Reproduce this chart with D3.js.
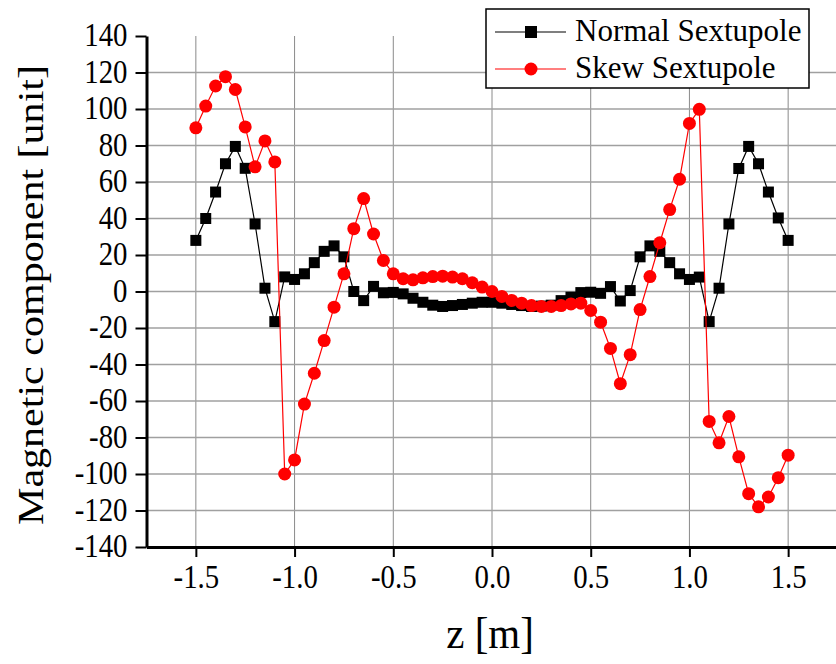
<!DOCTYPE html>
<html><head><meta charset="utf-8">
<script src="https://cdn.jsdelivr.net/npm/d3@7"></script>
<style>html,body{margin:0;padding:0;background:#fff;}svg{display:block;}</style>
</head><body>
<svg id="chart" width="836" height="664"></svg>
<script>
const zValues = [-1.5,-1.45,-1.4,-1.35,-1.3,-1.25,-1.2,-1.15,-1.1,-1.05,-1.0,-0.95,-0.9,-0.85,-0.8,-0.75,-0.7,-0.65,-0.6,-0.55,-0.5,-0.45,-0.4,-0.35,-0.3,-0.25,-0.2,-0.15,-0.1,-0.05,0,0.05,0.1,0.15,0.2,0.25,0.3,0.35,0.4,0.45,0.5,0.55,0.6,0.65,0.7,0.75,0.8,0.85,0.9,0.95,1.0,1.05,1.1,1.15,1.2,1.25,1.3,1.35,1.4,1.45,1.5];
const normalSextupole = [28,40,54.5,70,79.5,67.5,37,1.8,-16.5,8,6.6,9.7,15.8,22,25,19,0,-5,2.8,-0.7,-0.5,-1.3,-3.7,-5.9,-7.5,-8.2,-7.7,-7.1,-6.4,-5.9,-5.9,-6.4,-7.1,-7.7,-8.2,-8,-7.5,-5,-3.1,-0.6,-0.4,-1,2.7,-5.2,0.5,19,25,22,15.8,9.7,6.6,7.9,-16.5,1.8,37,67.4,79.5,70,54.5,40.3,28];
const skewSextupole = [89.7,101.6,112.6,117.7,110.7,90.2,68.3,82.5,71,-100,-92.3,-61.7,-44.8,-26.9,-8.6,9.7,34.4,50.9,31.5,17,9.7,7,6.4,7.5,8.2,8.4,7.9,7,4.8,2.4,0,-2.7,-4.9,-6.4,-7.7,-8.2,-8.2,-7.7,-6.8,-6.4,-10.4,-16.8,-31.2,-50.5,-34.6,-9.9,8.2,26.7,44.9,61.5,92.1,99.8,-71.2,-82.9,-68.5,-90.6,-110.8,-118,-112.6,-102,-89.7];
const xMajorTicks = [-1.5,-1.0,-0.5,0.0,0.5,1.0,1.5];
const xMinorTicks = [-1.25,-0.75,-0.25,0.25,0.75,1.25];
const yMajorTicks = [-140,-120,-100,-80,-60,-40,-20,0,20,40,60,80,100,120,140];
const yMinorTicks = [-130,-110,-90,-70,-50,-30,-10,10,30,50,70,90,110,130];
const seriesNames = ["Normal Sextupole","Skew Sextupole"];
const xLabel = "z [m]";
const yLabel = "Magnetic component [unit]";

const svg = d3.select("#chart");
const FONT = "'Liberation Serif','Times New Roman',serif";
const x = d3.scaleLinear().domain([-1.75,1.75]).range([146.5,837.5]);
const y = d3.scaleLinear().domain([-140,140]).range([547,36]);
const hyphen = f => d => f(d).replace("\u2212","-");

// gridlines
const grid = svg.append("g");
grid.selectAll("line.v").data(xMajorTicks).join("line")
  .attr("x1",d=>x(d)).attr("x2",d=>x(d)).attr("y1",y(140)).attr("y2",y(-140))
  .attr("stroke","#8a8a8a").attr("stroke-width",1);
grid.selectAll("line.h").data(yMajorTicks.filter(d=>d>-140&&d<140)).join("line")
  .attr("x1",x(-1.75)).attr("x2",x(1.75)).attr("y1",d=>y(d)).attr("y2",d=>y(d))
  .attr("stroke","#a0a0a0").attr("stroke-width",1.3);

// axes
const xAxisG = svg.append("g").attr("transform",`translate(0,${y(-140)})`);
xAxisG.call(d3.axisBottom(x).tickValues(xMinorTicks).tickSize(6).tickSizeOuter(0).tickFormat(""));
xAxisG.call(d3.axisBottom(x).tickValues(xMajorTicks).tickSize(10).tickSizeOuter(0).tickFormat(hyphen(d3.format(".1f"))));
const yAxisG = svg.append("g").attr("transform",`translate(${x(-1.75)},0)`);
yAxisG.call(d3.axisLeft(y).tickValues(yMinorTicks).tickSize(6).tickSizeOuter(0).tickFormat(""));
yAxisG.call(d3.axisLeft(y).tickValues(yMajorTicks).tickSize(11).tickSizeOuter(0).tickFormat(hyphen(d3.format("d"))));
const sx = 0.93, sy = 1.07;
[xAxisG,yAxisG].forEach(g=>{
  g.selectAll("path.domain").attr("stroke","#000").attr("stroke-width",3);
  g.selectAll(".tick line").attr("stroke","#000").attr("stroke-width",2);
  g.selectAll(".tick text").attr("font-family",FONT).attr("font-size",31).attr("fill","#000")
    .attr("transform",`scale(${sx},${sy})`);
});
xAxisG.selectAll(".tick text").attr("y",41/sy).attr("dy",0);
yAxisG.selectAll(".tick text").attr("x",-19/sx).attr("dy","0.3em");

// axis titles
svg.append("text").attr("transform","translate(490,648) scale(1,1.08)").attr("text-anchor","middle")
  .attr("font-family",FONT).attr("font-size",41).text(xLabel);
svg.append("text").attr("transform","translate(43,295) rotate(-90)").attr("text-anchor","middle")
  .attr("font-family",FONT).attr("font-size",35).attr("textLength",460).attr("lengthAdjust","spacingAndGlyphs").text(yLabel);

// series
const normalData = zValues.map((z,i)=>[z,normalSextupole[i]]);
const skewData = zValues.map((z,i)=>[z,skewSextupole[i]]);
const line = d3.line().x(d=>x(d[0])).y(d=>y(d[1]));
svg.append("path").datum(normalData).attr("d",line).attr("fill","none").attr("stroke","#000").attr("stroke-width",1.2);
svg.append("g").selectAll("rect").data(normalData).join("rect")
  .attr("x",d=>x(d[0])-5.5).attr("y",d=>y(d[1])-5.5).attr("width",11).attr("height",11).attr("fill","#000");
svg.append("path").datum(skewData).attr("d",line).attr("fill","none").attr("stroke","#ff0000").attr("stroke-width",1.2);
svg.append("g").selectAll("circle").data(skewData).join("circle")
  .attr("cx",d=>x(d[0])).attr("cy",d=>y(d[1])).attr("r",6.5).attr("fill","#ff0000");

// legend
const lg = svg.append("g");
lg.append("rect").attr("x",486).attr("y",9).attr("width",323).attr("height",79)
  .attr("fill","#fff").attr("stroke","#000").attr("stroke-width",1.5);
const rowsY = [32,69];
seriesNames.forEach((name,i)=>{
  const col = i===0?"#000":"#ff0000";
  lg.append("line").attr("x1",495).attr("x2",566).attr("y1",rowsY[i]).attr("y2",rowsY[i]).attr("stroke",col).attr("stroke-width",1.2);
  if(i===0) lg.append("rect").attr("x",531-6).attr("y",rowsY[i]-6).attr("width",12).attr("height",12).attr("fill","#000");
  else lg.append("circle").attr("cx",531).attr("cy",rowsY[i]).attr("r",6.5).attr("fill","#ff0000");
  lg.append("text").attr("x",575).attr("y",rowsY[i]+8.5).attr("font-family",FONT).attr("font-size",31).text(name);
});
</script>
</body></html>
